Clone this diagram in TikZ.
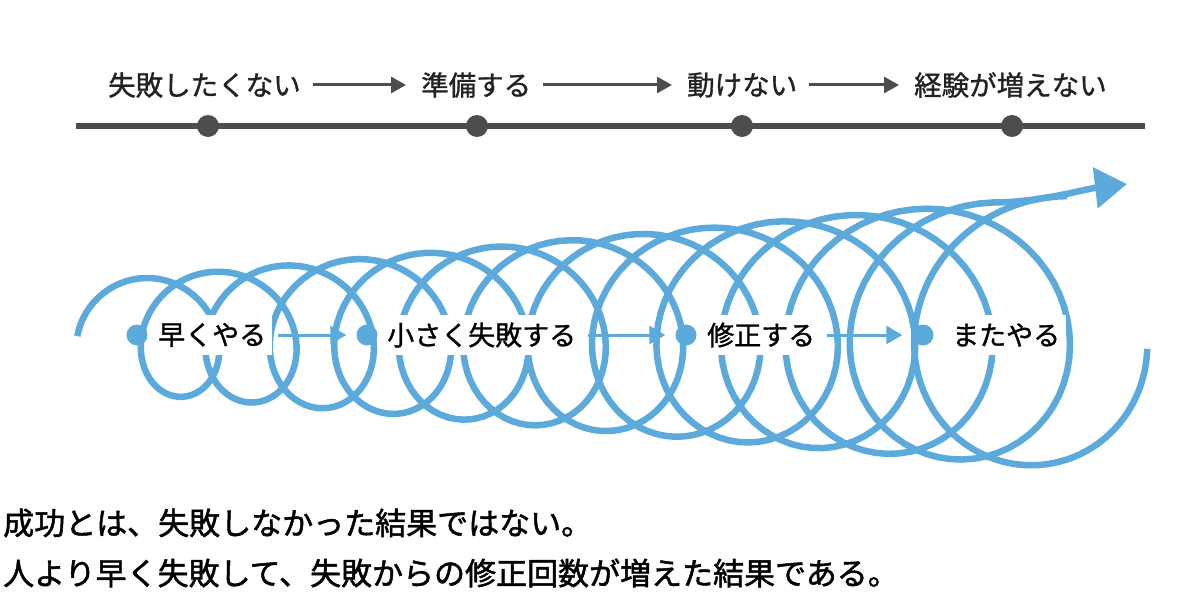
\documentclass[tikz,border=0pt]{standalone}
\usepackage{fontspec}
\setmainfont{Noto Sans CJK JP}
\newfontfamily\medfont{Noto Sans CJK JP}[FakeBold=1.1]
\newfontfamily\semifont{Noto Sans CJK JP}[FakeBold=1.5]
\usetikzlibrary{arrows.meta}
\definecolor{coilblue}{RGB}{92,170,220}
\definecolor{tlgray}{RGB}{77,77,77}
\definecolor{txtdark}{RGB}{34,34,34}
\begin{document}
\begin{tikzpicture}[x=1pt,y=-1pt,
  coil/.style={draw=coilblue, line width=6.5pt, line cap=butt, line join=round},
  toplabel/.style={anchor=west, inner sep=0pt, text=txtdark, font=\medfont\fontsize{27.5}{30}\selectfont},
  midlabel/.style={anchor=west, fill=white, inner xsep=6pt, inner ysep=8pt, text=black, font=\medfont\fontsize{27}{30}\selectfont},
  bottomtext/.style={anchor=west, inner sep=0pt, text=black, font=\semifont\fontsize{31}{34}\selectfont},
  tldot/.style={circle, fill=tlgray, minimum size=22pt, inner sep=0pt},
  bluedot/.style={circle, fill=coilblue, minimum size=21pt, inner sep=0pt},
  garrow/.style={draw=tlgray, line width=3pt, -{Triangle[length=15pt,width=16pt]}, shorten <=12pt, shorten >=15pt},
  barrow/.style={draw=coilblue, line width=3pt, -{Triangle[length=16pt,width=18pt]}, shorten <=6pt, shorten >=10pt},
]
\fill[white] (0,0) rectangle (1200,610);
\useasboundingbox (0,0) rectangle (1200,610);

% timeline
\coordinate (tlL) at (76,126);
\coordinate (tlR) at (1145,126);
\draw[tlgray, line width=6pt] (tlL) -- (tlR);
\node[tldot] (g1) at (208,126) {};
\node[tldot] (g2) at (477,126) {};
\node[tldot] (g3) at (742,126) {};
\node[tldot] (g4) at (1012,126) {};
\node[toplabel] (a1) at (108,85) {失敗したくない};
\node[toplabel] (a2) at (421,85) {準備する};
\node[toplabel] (a3) at (687,85) {動けない};
\node[toplabel] (a4) at (914,85) {経験が増えない};
\draw[garrow] (a1.east) -- (a2.west);
\draw[garrow] (a2.east) -- (a3.west);
\draw[garrow] (a3.east) -- (a4.west);

% coil
\draw[coil, -{Triangle[length=32pt,width=40pt]}] plot[domain=-0.25:12, samples=740]
  ({146+70.9*\x+(51+6.5*(\x+0.25))*sin(360*\x)}, {336-0.3*\x-(58+6*\x)*cos(360*\x)})
  .. controls (1040,202.4) and (1085,189) .. (1127,184);
\draw[coil] plot[domain=12.27:13.0, samples=80]
  ({146+70.9*\x+(51+6.5*(\x+0.25))*sin(360*\x)}, {336-0.3*\x-(58+6*\x)*cos(360*\x)});

% labels on the coil
\node[midlabel] (m1) at (152,335) {早くやる};
\node[midlabel] (m2) at (381,335) {小さく失敗する};
\node[midlabel] (m3) at (701,335) {修正する};
\node[midlabel] (m4) at (946,335) {またやる};
\node[bluedot] (d1) at (137,335) {};
\node[bluedot] (d2) at (367,335) {};
\node[bluedot] (d3) at (686,335) {};
\node[bluedot] (d4) at (923,335) {};
\draw[barrow] (m1.east) -- (d2.west);
\draw[barrow] (m2.east) -- (d3.west);
\draw[barrow] (m3.east) -- (d4.west);

% bottom text
\node[bottomtext] (b1) at (3,523) {成功とは、失敗しなかった結果ではない。};
\node[bottomtext] (b2) at (3,573) {人より早く失敗して、失敗からの修正回数が増えた結果である。};
\end{tikzpicture}
\end{document}
